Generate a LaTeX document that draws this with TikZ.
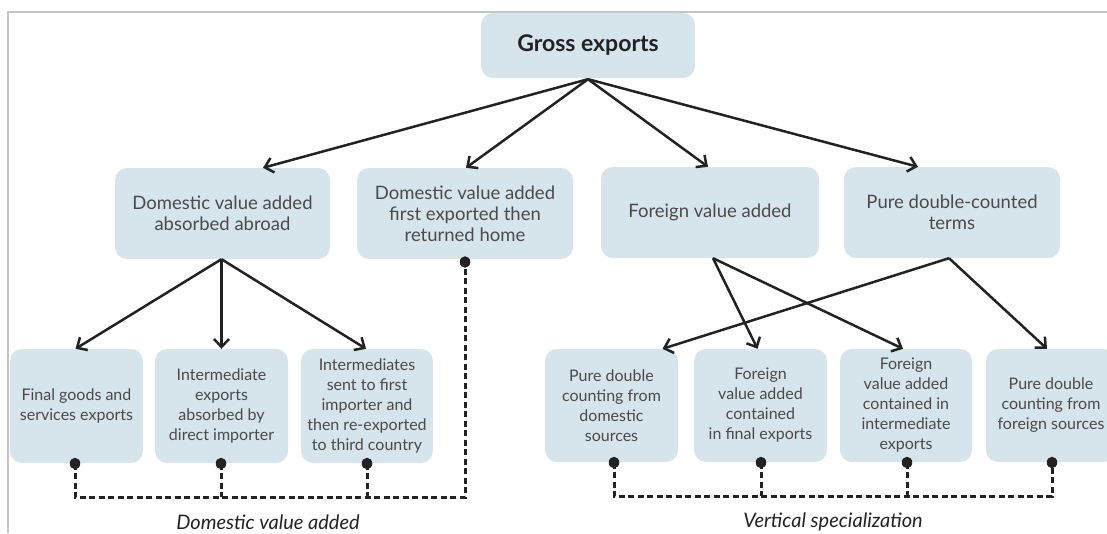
\documentclass[tikz,border=0pt]{standalone}
\usepackage{fontspec}
\setmainfont{Lato}
\usetikzlibrary{arrows.meta,shapes.geometric}
\definecolor{boxfill}{HTML}{D6E4EC}
\definecolor{txt}{HTML}{4A4A4A}
\definecolor{framegray}{HTML}{C6C6C6}
\definecolor{ink}{HTML}{222222}
\begin{document}
\begin{tikzpicture}[x=1pt,y=-1pt,
  box/.style={fill=boxfill, rounded corners=12pt, text=txt, align=center, inner sep=0pt},
  midtext/.style={font=\fontsize{18.5}{21}\selectfont},
  lowtext/.style={font=\fontsize{16}{20}\selectfont},
  arr/.style={draw=ink, line width=2.5pt, -{Straight Barb[length=8pt,width=15pt,line width=2.5pt]}},
  link/.style={draw=ink, line width=3pt, dash pattern=on 6pt off 3.5pt},
  dot/.style={ellipse, fill=ink, inner sep=0pt, minimum width=10.5pt, minimum height=11.5pt},
  caption/.style={font=\fontsize{20}{22}\selectfont\itshape, text=ink},
]
\useasboundingbox (0,0) rectangle (1107,533);
\clip (0,0) rectangle (1107,533);

% outer frame (top and left edges only)
\draw[framegray, line width=2pt] (8,533) -- (8,12) -- (1107,12);

% top node
\node[box, minimum width=214pt, minimum height=65pt,
      font=\fontsize{23}{26}\selectfont\bfseries, text=ink] (G) at (588,45.5) {Gross exports};

% second row
\node[box, midtext, minimum width=215pt, minimum height=91pt] (A) at (222.5,213.5)
  {Domestic value added\\absorbed abroad};
\node[box, midtext, minimum width=216pt, minimum height=91pt] (B) at (465,213.5)
  {Domestic value added\\first exported then\\returned home};
\node[box, midtext, minimum width=218pt, minimum height=91pt] (C) at (710,212.5)
  {Foreign value added};
\node[box, midtext, minimum width=216pt, minimum height=91pt] (D) at (952,212.5)
  {Pure double-counted\\terms};

% third row, domestic side
\node[box, lowtext, minimum width=133pt, minimum height=114pt] (R1) at (76.5,406)
  {Final goods and\\services exports};
\node[box, lowtext, minimum width=133pt, minimum height=114pt] (R2) at (221.5,406)
  {Intermediate\\exports\\absorbed by\\direct importer};
\node[box, lowtext, minimum width=132pt, minimum height=114pt] (R3) at (367,406)
  {Intermediates\\sent to first\\importer and\\then re-exported\\to third country};

% third row, foreign side
\node[box, lowtext, minimum width=133pt, minimum height=113pt] (R4) at (611.5,405.5)
  {Pure double\\counting from\\domestic\\sources};
\node[box, lowtext, minimum width=133pt, minimum height=113pt] (R5) at (760.5,405.5)
  {Foreign\\value added\\contained\\in final exports};
\node[box, lowtext, minimum width=132pt, minimum height=113pt] (R6) at (906,405.5)
  {Foreign\\value added\\contained in\\intermediate\\exports};
\node[box, lowtext, minimum width=130pt, minimum height=113pt] (R7) at (1051,405.5)
  {Pure double\\counting from\\foreign sources};

% arrows from gross exports
\draw[arr] ([yshift=-1pt]G.south) -- ([xshift=40.5pt]A.north);
\draw[arr] ([yshift=-1pt]G.south) -- ([xshift=1pt]B.north);
\draw[arr] ([yshift=-1pt]G.south) -- ([xshift=-2pt]C.north);
\draw[arr] ([yshift=-1pt]G.south) -- ([xshift=-34pt]D.north);

% arrows into the third row
\draw[arr] ([xshift=-1pt]A.south) -- ([xshift=-1pt]R1.north);
\draw[arr] ([xshift=-1pt]A.south) -- (R2.north);
\draw[arr] ([xshift=-1pt]A.south) -- ([xshift=-1pt]R3.north);
\draw[arr] ([xshift=3pt]C.south) -- ([xshift=-3pt]R5.north);
\draw[arr] ([xshift=3pt]C.south) -- ([xshift=-3pt]R6.north);
\draw[arr] ([xshift=-3pt]D.south) -- ([xshift=51pt]R4.north);
\draw[arr] ([xshift=-3pt]D.south) -- ([xshift=-4pt]R7.north);

% dashed brackets
\coordinate (busL) at (465,497);
\coordinate (busR) at (1052,496);
\coordinate (pB) at (465,262);
\coordinate (p1) at (75,463.5);
\coordinate (p2) at (221,463.5);
\coordinate (p3) at (367,463.5);
\coordinate (p4) at (614,462.5);
\coordinate (p5) at (761,462.5);
\coordinate (p6) at (907,462.5);
\coordinate (p7) at (1052,462.5);
\draw[link] (p1) |- (busL) -- (pB);
\draw[link] (p2) -- (p2 |- busL);
\draw[link] (p3) -- (p3 |- busL);
\draw[link] (p4) |- (busR) -- (p7);
\draw[link] (p5) -- (p5 |- busR);
\draw[link] (p6) -- (p6 |- busR);

% connector dots
\node[dot] (dB) at (pB) {};
\node[dot] (d1) at (p1) {};
\node[dot] (d2) at (p2) {};
\node[dot] (d3) at (p3) {};
\node[dot] (d4) at (p4) {};
\node[dot] (d5) at (p5) {};
\node[dot] (d6) at (p6) {};
\node[dot] (d7) at (p7) {};

% group captions
\node[caption] (capL) at (268,522) {Domestic value added};
\node[caption] (capR) at (833,522) {Vertical specialization};
\end{tikzpicture}
\end{document}
